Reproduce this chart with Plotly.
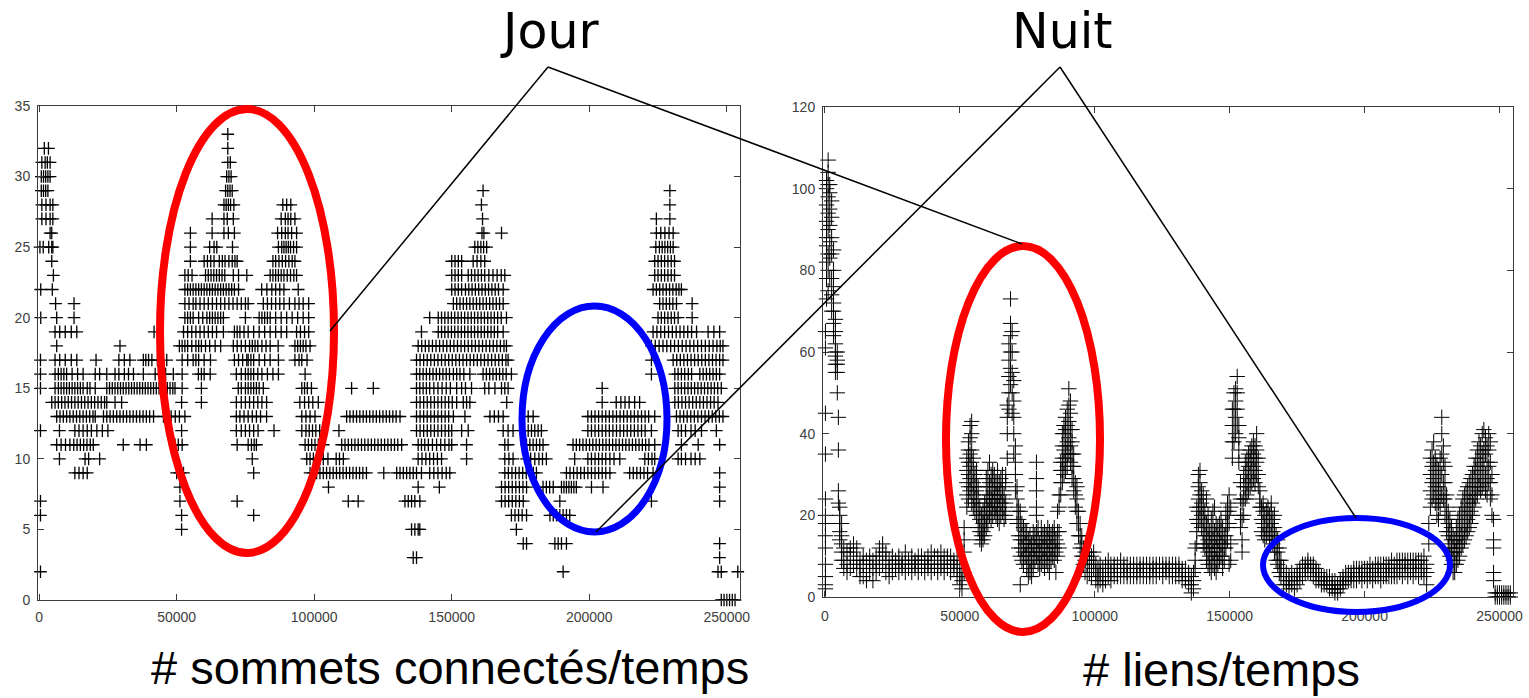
import plotly.graph_objects as go

W, H = 1529, 698

# ---------------- Left panel: "# sommets connectés/temps" ----------------
# y level (number of connected nodes) and, for each level, the times (in thousands) where it occurs
left_levels = [33, 32, 31, 30, 29, 28, 27, 26, 25, 24, 23, 22, 21, 20, 19, 18, 17, 16,
               15, 14, 13, 12, 11, 10, 9, 8, 7, 6, 5, 4, 3, 2, 0]
left_times_k = [
    [68.6],
    [1.9, 3.4, 68.6],
    [1.0, 2.2, 3.0, 4.0, 68.6, 69.5],
    [0.8, 1.6, 2.4, 3.2, 4.0, 68.2, 69.0, 69.8],
    [0.8, 1.6, 2.4, 3.2, 67.8, 68.6, 69.4, 70.2, 161.4, 229.3],
    [1.0, 2.5, 4.0, 5.0, 67.2, 68.0, 68.8, 69.6, 70.8, 88.6, 90.0, 91.5, 160.8, 229.3],
    [1.0, 2.5, 4.0, 5.0, 62.9, 67.2, 68.4, 70.6, 88.0, 89.5, 90.5, 91.5, 93.0, 161.2, 224.4, 229.3],
    [4.0, 4.6, 55.0, 62.9, 67.2, 68.8, 71.0, 86.7, 88.2, 89.5, 90.5, 91.8, 93.6, 161.0, 161.7,
     168.1, 224.4, 226.0, 227.5, 229.0, 230.5],
    [0.3, 1.5, 3.5, 4.6, 5.0, 55.0, 62.0, 63.6, 64.6, 70.3, 87.0, 88.2, 89.0, 89.8, 90.6, 91.4,
     92.5, 93.6, 158.4, 159.5, 160.6, 161.6, 162.7, 224.2, 225.5, 226.5, 227.5, 228.5, 229.5, 230.5],
    [4.6, 55.0, 60.0, 61.2, 62.4, 63.6, 65.5, 66.6, 67.6, 69.0, 70.2, 71.2, 72.0, 85.0, 86.0, 87.2,
     88.4, 89.6, 90.8, 92.0, 93.0, 150.0, 151.2, 152.4, 153.6, 157.8, 159.2, 160.6, 162.0, 223.8,
     225.0, 226.2, 227.4, 228.6, 229.8, 231.0],
    [5.2, 53.0, 54.2, 55.6, 60.5, 61.5, 62.5, 63.5, 64.5, 65.5, 66.5, 67.5, 70.6, 72.5, 75.5, 84.0,
     85.0, 86.0, 87.0, 88.0, 89.0, 90.2, 91.4, 92.6, 93.6, 150.0, 151.2, 152.4, 153.6, 156.0, 157.2,
     158.4, 159.6, 160.8, 162.0, 163.5, 165.0, 166.5, 168.0, 169.3, 223.8, 225.0, 226.2, 227.4,
     228.6, 229.8, 231.0],
    [0.6, 4.8, 53.0, 54.0, 55.0, 56.0, 57.0, 58.0, 59.0, 60.0, 61.0, 62.0, 63.0, 64.0, 65.0, 66.0,
     67.0, 68.0, 69.0, 70.0, 71.0, 72.5, 80.9, 82.8, 84.6, 86.0, 87.5, 89.0, 94.2, 150.0, 151.2,
     152.4, 153.6, 155.0, 156.2, 157.4, 158.6, 159.8, 161.0, 162.2, 163.4, 164.6, 165.8, 167.0,
     168.7, 223.2, 224.4, 225.6, 226.8, 228.0, 229.2, 230.4, 231.6, 232.6, 233.5],
    [6.0, 12.7, 53.0, 54.5, 56.0, 57.0, 58.5, 60.0, 61.5, 63.0, 64.5, 66.0, 67.5, 69.0, 70.5, 72.0,
     73.5, 75.0, 76.0, 81.5, 83.0, 84.5, 86.0, 87.5, 89.0, 91.0, 93.0, 94.5, 96.0, 98.0, 150.6,
     151.8, 153.0, 154.2, 155.4, 156.6, 157.8, 159.0, 160.2, 161.4, 162.6, 163.8, 165.0, 166.2,
     167.4, 168.7, 225.6, 226.8, 228.0, 229.2, 230.4, 231.7, 237.4],
    [0.6, 6.4, 12.7, 53.0, 54.0, 55.0, 56.0, 58.0, 59.5, 61.0, 62.0, 63.0, 64.0, 65.0, 66.0, 67.0,
     75.0, 80.0, 81.0, 82.0, 83.0, 84.0, 86.0, 88.0, 90.0, 92.0, 94.0, 96.0, 98.0, 142.0, 145.1,
     146.3, 147.5, 148.7, 149.9, 151.1, 152.3, 153.5, 154.7, 155.9, 157.1, 158.3, 159.5, 160.7,
     161.9, 163.1, 164.3, 165.5, 166.7, 168.0, 169.9, 225.0, 226.2, 227.4, 228.6, 229.8, 231.0,
     232.3, 237.4],
    [5.8, 7.5, 9.5, 11.7, 13.7, 41.8, 52.5, 54.0, 55.5, 57.0, 58.5, 60.0, 61.5, 63.0, 64.5, 67.0,
     71.0, 72.0, 73.0, 74.5, 76.0, 78.0, 80.0, 82.0, 84.0, 86.0, 88.0, 90.0, 93.6, 95.0, 96.5, 98.0,
     139.0, 145.1, 146.3, 147.5, 148.7, 149.9, 151.1, 152.3, 153.5, 154.7, 155.9, 157.1, 158.3,
     159.5, 160.7, 161.9, 163.1, 164.3, 165.5, 166.7, 168.7, 223.2, 224.6, 226.0, 227.4, 228.8,
     230.2, 231.6, 233.0, 234.4, 235.8, 237.2, 239.0, 243.2, 245.3, 247.4],
    [6.4, 29.4, 51.0, 52.0, 53.0, 54.0, 55.5, 57.0, 58.0, 59.0, 60.5, 62.0, 64.0, 66.0, 70.6, 72.0,
     73.5, 75.0, 76.5, 77.5, 78.5, 79.5, 81.0, 82.5, 84.0, 86.9, 93.0, 94.0, 95.0, 96.0, 97.0, 98.5,
     137.8, 139.1, 140.4, 141.7, 143.0, 144.3, 145.6, 146.9, 148.2, 149.5, 150.8, 152.1, 153.4,
     154.7, 156.0, 157.3, 158.6, 159.9, 161.2, 162.5, 163.8, 165.1, 166.4, 167.7, 169.0, 169.9,
     222.6, 224.0, 225.4, 226.8, 228.2, 229.6, 231.0, 232.4, 233.8, 235.2, 236.6, 238.0, 239.4,
     240.8, 242.2, 243.6, 245.0, 246.4, 247.6, 248.6],
    [0.5, 5.8, 7.5, 9.5, 11.7, 13.7, 20.7, 29.0, 31.0, 33.0, 37.9, 38.8, 39.8, 41.0, 43.0, 46.4,
     52.0, 54.0, 56.0, 57.0, 58.0, 60.0, 62.3, 71.0, 72.5, 74.0, 75.5, 76.0, 77.0, 78.0, 80.0, 82.0,
     84.0, 87.0, 93.0, 94.5, 95.5, 97.4, 137.2, 138.5, 139.8, 141.1, 142.4, 143.7, 145.0, 146.3,
     147.6, 148.9, 150.2, 151.5, 152.8, 154.1, 155.4, 156.7, 158.0, 159.3, 160.6, 161.9, 163.2,
     164.5, 165.8, 167.1, 168.4, 169.7, 170.5, 222.6, 230.5, 231.8, 233.1, 234.4, 235.7, 237.0,
     238.3, 239.6, 240.9, 242.2, 243.5, 244.8, 246.1, 247.4, 248.6],
    [0.5, 5.8, 7.0, 8.0, 9.0, 10.0, 12.0, 14.0, 16.0, 20.4, 22.0, 24.6, 27.6, 29.0, 31.0, 32.5,
     34.3, 37.9, 42.2, 44.0, 46.0, 48.8, 52.0, 57.9, 59.0, 60.0, 62.2, 71.7, 73.5, 75.0, 76.0, 77.0,
     78.0, 79.5, 81.0, 83.0, 85.0, 87.0, 96.7, 137.2, 138.4, 139.6, 140.8, 142.0, 143.2, 144.4,
     145.6, 146.8, 148.0, 149.2, 150.6, 151.8, 153.0, 154.4, 156.6, 161.4, 162.6, 163.8, 165.0,
     166.2, 167.4, 168.6, 169.8, 171.7, 222.6, 231.1, 232.3, 233.5, 234.7, 236.0, 237.2, 240.2,
     241.4, 242.6, 243.8, 245.0, 246.2, 247.4],
    [0.5, 5.8, 7.0, 8.0, 9.0, 10.0, 11.0, 12.0, 13.0, 14.0, 15.0, 16.0, 17.5, 18.5, 20.4, 24.6,
     25.6, 26.6, 27.6, 28.6, 29.6, 30.6, 31.6, 32.6, 33.6, 34.6, 35.6, 36.6, 37.6, 38.6, 39.6, 40.6,
     41.6, 42.6, 43.6, 44.6, 45.6, 46.6, 47.6, 48.6, 49.4, 52.0, 59.0, 72.4, 73.5, 75.0, 76.0, 77.0,
     78.0, 79.0, 80.0, 81.5, 95.5, 96.5, 97.5, 99.0, 113.6, 121.5, 137.2, 138.4, 139.6, 140.8,
     142.0, 143.5, 145.0, 146.5, 148.0, 149.5, 151.8, 153.6, 155.0, 157.2, 162.0, 163.5, 165.7,
     168.1, 169.3, 170.5, 204.7, 231.1, 232.3, 233.5, 234.7, 235.9, 237.1, 238.3, 239.5, 240.7,
     241.9, 243.1, 244.3, 245.5, 246.7, 248.0],
    [4.6, 5.8, 7.0, 8.2, 9.4, 10.6, 11.8, 13.0, 14.2, 15.4, 16.6, 17.8, 19.0, 20.2, 21.4, 22.6,
     23.8, 24.6, 27.6, 30.0, 51.8, 59.0, 71.7, 73.5, 75.0, 76.5, 78.0, 79.5, 81.0, 82.7, 94.8, 96.5,
     98.0, 99.5, 101.5, 137.2, 138.5, 139.8, 141.1, 142.4, 143.7, 145.0, 146.3, 147.6, 148.9,
     150.2, 151.8, 154.2, 155.4, 156.6, 170.0, 204.7, 209.8, 211.5, 213.0, 214.5, 216.5, 218.3,
     231.1, 232.4, 233.7, 235.0, 236.3, 237.6, 238.9, 240.2, 241.5, 242.8, 244.1, 245.4, 246.8],
    [6.4, 7.6, 8.8, 10.0, 11.2, 12.4, 13.6, 14.8, 16.0, 17.2, 18.4, 19.6, 20.4, 23.4, 24.6, 25.8,
     27.0, 28.2, 29.4, 30.6, 31.8, 33.0, 34.2, 35.4, 36.6, 37.8, 39.0, 40.2, 41.6, 45.2, 46.5, 48.0,
     49.5, 51.0, 53.0, 71.7, 73.0, 74.5, 76.0, 77.5, 79.0, 80.5, 82.7, 95.5, 97.0, 98.5, 100.3,
     111.8, 113.0, 114.2, 115.4, 116.6, 117.8, 119.0, 120.2, 121.4, 122.6, 123.8, 125.0, 126.2,
     127.4, 128.6, 129.8, 131.2, 137.2, 138.5, 139.8, 141.1, 142.4, 143.7, 145.0, 146.3, 147.6,
     148.9, 150.6, 154.8, 163.9, 165.5, 167.0, 168.7, 177.8, 179.6, 199.5, 200.8, 202.1, 203.4,
     204.7, 206.0, 207.3, 208.6, 209.9, 211.2, 212.5, 213.8, 215.1, 216.4, 217.7, 219.0, 220.3,
     221.6, 223.8, 231.7, 233.0, 234.3, 235.6, 236.9, 238.2, 239.5, 240.8, 242.1, 243.4, 244.7,
     246.0, 247.3, 248.6],
    [0.5, 7.4, 13.0, 14.5, 16.0, 17.5, 19.0, 21.0, 23.0, 25.0, 51.8, 71.7, 73.5, 75.0, 76.5, 78.0,
     79.6, 85.4, 95.5, 97.0, 98.2, 99.4, 100.6, 102.0, 109.0, 137.2, 138.5, 139.8, 141.1, 142.4,
     143.7, 145.0, 146.3, 147.6, 148.9, 150.0, 153.6, 156.0, 168.7, 170.5, 172.3, 177.8, 179.0,
     180.2, 181.4, 182.6, 199.5, 200.8, 202.1, 203.4, 204.7, 206.0, 207.3, 208.6, 209.9, 211.2,
     212.5, 213.8, 215.1, 216.4, 217.7, 219.0, 220.3, 222.6, 232.3, 233.5, 235.0, 237.0, 238.5,
     240.8, 246.2],
    [6.4, 8.0, 9.6, 11.2, 12.6, 13.8, 15.0, 16.2, 17.4, 18.6, 19.7, 30.6, 36.7, 39.0, 49.4, 50.6,
     52.0, 72.0, 76.0, 77.2, 78.2, 79.0, 96.7, 97.9, 99.1, 100.3, 101.5, 103.3, 110.0, 111.2,
     112.4, 113.6, 114.8, 116.0, 117.2, 118.4, 119.6, 120.8, 122.0, 123.2, 124.4, 125.6, 126.8,
     128.0, 129.2, 130.4, 131.8, 137.8, 139.0, 140.2, 141.5, 143.0, 144.5, 146.0, 147.5, 149.0,
     150.0, 155.4, 169.3, 170.5, 177.2, 178.4, 179.6, 180.8, 182.0, 183.2, 194.1, 195.3, 196.5,
     197.7, 198.9, 200.1, 201.3, 202.5, 203.7, 204.9, 206.1, 207.3, 208.5, 209.7, 210.9, 212.1,
     213.3, 214.5, 215.7, 216.9, 218.1, 219.3, 220.5, 221.7, 223.8, 233.5, 239.6, 247.4],
    [7.4, 16.7, 18.0, 22.0, 77.5, 97.3, 98.5, 99.7, 100.9, 102.1, 103.3, 105.0, 108.0, 109.2,
     110.6, 137.8, 139.2, 140.6, 142.0, 143.4, 144.8, 146.3, 155.4, 169.3, 170.8, 172.3, 177.2,
     178.7, 180.2, 181.7, 183.0, 184.4, 194.7, 199.5, 200.8, 202.1, 203.4, 204.7, 206.0, 207.5,
     209.0, 211.1, 220.2, 221.5, 222.8, 223.8, 232.3, 233.5, 235.0, 237.0, 238.5, 240.2],
    [13.0, 14.5, 16.0, 17.5, 50.0, 51.2, 52.5, 78.0, 98.5, 99.7, 100.9, 102.1, 103.3, 104.5,
     105.7, 106.9, 108.1, 109.3, 110.5, 111.7, 112.9, 114.1, 115.3, 116.5, 117.7, 119.0, 125.3,
     130.0, 131.2, 132.4, 133.6, 134.8, 136.0, 137.2, 139.0, 142.0, 143.5, 145.0, 146.5, 148.0,
     149.3, 169.3, 170.6, 171.9, 173.2, 174.5, 175.8, 177.1, 178.4, 179.7, 180.8, 191.7, 193.0,
     194.3, 195.6, 196.9, 198.2, 199.5, 200.8, 202.1, 203.4, 204.7, 206.0, 207.5, 214.7, 216.0,
     217.3, 218.6, 219.9, 221.2, 223.2, 247.4],
    [51.2, 105.2, 137.8, 145.5, 168.1, 169.4, 170.7, 172.0, 173.3, 174.6, 175.9, 177.2, 183.2,
     184.4, 185.6, 186.9, 189.9, 190.8, 191.7, 192.6, 193.5, 194.4, 195.3, 200.8, 205.0, 247.4],
    [0.5, 51.2, 72.0, 112.4, 116.0, 133.0, 134.2, 135.4, 136.6, 138.4, 168.1, 169.4, 170.7,
     172.0, 173.3, 174.6, 176.0, 189.3, 222.6, 247.4],
    [0.5, 51.8, 78.0, 171.7, 173.0, 174.3, 175.6, 177.2, 185.7, 186.9, 188.1, 189.3, 190.5,
     191.7, 192.9],
    [51.8, 135.4, 136.6, 137.8, 138.4, 173.5],
    [176.0, 177.2, 187.5, 188.7, 189.9, 191.7, 247.4],
    [136.0, 137.2, 247.4],
    [0.5, 190.5, 246.8, 248.0, 254.0],
    [248.0, 249.0, 250.0, 251.0, 252.0, 253.0],
]

# ---------------- Right panel: "# liens/temps" ----------------
# sample times (thousands) and the link counts observed around each time
right_times_k = [
    0.2, 0.6, 1.2, 1.8, 2.5, 3.2, 3.9, 4.6, 5.0, 5.5, 6.2,
    7.0, 8.2, 9.4, 10.6, 11.8, 13.0, 14.2, 15.4, 16.6, 17.8, 19.0, 20.2, 21.4, 22.6, 23.8, 25.0,
    26.2, 27.4, 28.6, 29.8, 31.0, 32.2, 33.4, 34.6, 35.8, 37.0, 38.2, 39.4, 40.6, 41.8, 43.0,
    44.2, 45.4, 46.6, 47.8, 49.0, 50.0, 50.8, 51.6,
    52.6, 53.2, 53.8, 54.4, 55.0, 55.6, 56.2, 56.8, 57.4, 58.0, 58.6, 59.2, 59.8, 60.4, 61.0,
    61.6, 62.2, 62.8, 63.4, 64.0, 64.6, 65.2, 65.8, 66.4, 67.0, 67.6, 68.2, 68.8, 69.4, 70.0,
    70.6, 71.2, 71.8, 72.4, 73.0, 73.6, 74.2, 74.8, 75.4, 76.0, 76.6, 77.2, 77.8, 78.4, 79.0,
    79.6, 80.2, 80.8, 81.4, 82.0, 82.6, 83.2, 83.8, 84.4, 85.0, 85.6, 86.2, 86.8, 87.4, 88.0,
    88.6, 89.2, 89.8, 90.4, 91.0, 91.6, 92.2, 92.8, 93.4, 94.0, 94.6, 95.2, 95.8, 96.4,
    97.2, 98.0, 98.8, 99.6, 100.4, 101.2, 102.0, 103.0, 104.0, 105.0, 106.0, 107.2, 108.4,
    109.6, 110.8, 112.0, 113.2, 114.4, 115.6, 116.8, 118.0, 119.2, 120.4, 121.6, 122.8, 124.0,
    125.2, 126.4, 127.6, 128.8, 130.0, 131.2, 132.4, 133.6, 134.8, 135.8, 136.6,
    137.2, 137.8, 138.4, 139.0, 139.6, 140.2, 140.8, 141.4, 142.0, 142.6, 143.2, 143.8, 144.4,
    145.0, 145.6, 146.2, 146.8, 147.4, 148.0, 148.6, 149.2, 149.8, 150.4, 151.0, 151.6, 152.2,
    152.8, 153.4, 154.0, 154.6, 155.2, 155.8, 156.4, 157.0, 157.6, 158.2, 158.8, 159.4, 160.0,
    160.6, 161.2, 161.8, 162.4, 163.0, 163.6, 164.2, 164.8, 165.4, 166.0, 166.6, 167.2, 167.8,
    168.4, 169.0, 170.0, 171.0, 172.0, 173.0, 174.0, 175.0, 176.0, 177.0, 178.0, 179.0, 180.0,
    181.0, 182.0, 183.0, 184.0, 185.0, 186.0, 187.0, 188.0, 189.0, 190.0, 191.0, 192.0, 193.0,
    194.0, 195.0, 196.0, 197.0, 198.0, 199.0, 200.0, 201.0, 202.0, 203.0, 204.0, 205.0, 206.0,
    207.0, 208.0, 209.0, 210.0, 211.0, 212.0, 213.0, 214.0, 215.0, 216.0, 217.0, 218.0, 219.0,
    220.0, 221.0, 222.0, 223.0, 223.8, 224.4, 225.0, 225.6, 226.2, 226.8, 227.4, 228.0, 228.6,
    229.2, 229.8, 230.4, 231.0, 231.6, 232.2, 232.8, 233.4, 234.0, 234.6, 235.2, 235.8, 236.4,
    237.0, 237.6, 238.2, 238.8, 239.4, 240.0, 240.6, 241.2, 241.8, 242.4, 243.0, 243.6, 244.2,
    244.8, 245.4, 246.0, 246.6, 247.2, 247.8, 248.4, 249.2, 250.0, 250.8, 251.6, 252.4, 253.2,
    254.0,
]
right_values = [
    [2, 3, 5, 8, 12, 15, 18, 20, 24, 35, 45, 61, 65], [73, 78, 82, 86, 88, 92, 96, 100, 102],
    [75, 80, 84, 90, 94, 98, 101, 104, 107], [78, 83, 87, 91, 95, 99, 101],
    [70, 74, 78, 84, 88, 93, 97], [64, 67, 70, 72, 76, 80, 85], [55, 57, 59, 60, 62, 65, 68],
    [50, 55, 57, 58, 60], [23, 26, 36, 44], [14, 16, 18, 20, 22], [9, 11, 13, 15, 18],
    [7, 9, 12], [6, 8, 11], [7, 10, 12], [8, 11, 13], [7, 9, 12], [5, 7, 9], [5, 8, 10],
    [4, 6, 9], [6, 8, 10], [4, 7, 9], [6, 8, 10], [7, 10, 12], [8, 11, 13], [6, 9, 11],
    [5, 7, 9], [6, 8, 10], [7, 8, 9], [6, 8, 10], [7, 8, 9], [6, 8, 11], [7, 8, 9], [6, 8, 10],
    [7, 8, 9], [6, 8, 10], [7, 9, 10], [6, 8, 9], [7, 8, 10], [6, 8, 11], [7, 9, 10],
    [6, 8, 10], [7, 8, 11], [6, 8, 10], [7, 9, 10], [6, 8, 10], [7, 8, 9], [5, 7, 9], [3, 5, 7],
    [2, 4, 6], [6, 11, 14, 17],
    [22, 25, 28, 31, 34], [24, 27, 30, 33, 36, 38], [26, 29, 32, 35, 39, 42],
    [23, 27, 30, 33, 36, 40, 43], [22, 25, 28, 31, 34], [21, 24, 27, 30], [20, 23, 26, 29, 31],
    [17, 20, 24, 27], [14, 16, 19, 22], [13, 15, 17, 20], [14, 16, 18, 21], [15, 18, 20, 23],
    [17, 19, 22, 25, 29], [18, 21, 24, 27, 31], [20, 22, 25, 28, 33], [19, 22, 24, 27, 30],
    [20, 23, 26, 29, 31], [21, 24, 27, 30], [20, 22, 25, 28], [19, 21, 24, 27, 31],
    [18, 22, 25, 28], [20, 23, 26, 29], [21, 24, 27, 30], [19, 22, 25], [20, 23, 28, 30],
    [34, 40, 44, 47], [46, 50, 54, 58, 62], [52, 56, 60, 64, 67, 73], [45, 50, 55, 60, 65],
    [35, 40, 44, 48, 53], [26, 30, 33, 37], [18, 21, 24, 27], [12, 15, 19, 22],
    [3, 10, 14, 18, 21], [9, 12, 15, 18], [8, 11, 14, 17], [10, 13, 16], [7, 10, 13, 16],
    [5, 8, 11, 14], [6, 9, 12, 15], [5, 8, 11, 13], [7, 10, 13, 16], [9, 12, 15],
    [10, 13, 16, 20, 22, 26, 29, 33], [8, 11, 14, 17], [7, 10, 13], [8, 11, 14, 17],
    [9, 12, 15], [7, 10, 13, 16], [9, 12, 15], [8, 11, 14, 17], [6, 10, 13, 16], [9, 12, 15],
    [10, 13, 16], [9, 12, 15, 17], [6, 11, 14], [10, 13, 16, 21], [12, 16, 22, 25],
    [25, 28, 31, 33], [28, 31, 34, 37, 40], [30, 33, 36, 40, 42], [31, 34, 37, 41, 44],
    [32, 35, 38, 42, 46], [35, 39, 43, 47, 51], [33, 37, 41, 45, 48], [29, 32, 35, 38, 41],
    [26, 29, 32, 35], [22, 25, 28], [18, 21, 24, 27], [15, 18, 21], [12, 15, 18], [10, 13, 15],
    [8, 10, 12], [6, 9, 11],
    [5, 8, 10], [6, 9, 11], [5, 8, 10], [7, 9, 11], [4, 6, 8], [3, 5, 7], [4, 6, 8], [3, 5, 7],
    [4, 6, 8], [5, 7, 9], [4, 6, 8], [5, 7, 8], [5, 6, 8], [5, 7, 9], [5, 7, 8], [5, 6, 8],
    [5, 7, 8], [5, 7, 8], [5, 6, 8], [5, 7, 8], [5, 7, 8], [5, 7, 8], [5, 6, 8], [5, 7, 8],
    [5, 7, 8], [6, 7, 8], [5, 7, 8], [6, 7, 8], [5, 7, 8], [5, 6, 8], [5, 7, 8], [5, 7, 8],
    [4, 6, 7], [4, 5, 7], [3, 5, 6], [1, 3, 5], [2, 4, 6],
    [7, 9, 12], [13, 16, 19, 22], [18, 21, 24, 27, 30], [19, 22, 25, 28, 31], [17, 20, 23, 26],
    [13, 16, 19, 22, 25], [12, 15, 18, 21], [9, 12, 15, 18, 24], [8, 11, 14, 17, 20],
    [7, 10, 13, 16], [6, 9, 12, 15, 19], [8, 11, 14, 17, 21], [7, 10, 13, 16, 22],
    [6, 9, 12, 15, 18], [8, 11, 14, 17], [9, 12, 15, 18], [10, 13, 16, 19], [7, 10, 13, 17],
    [9, 12, 15], [12, 15, 18, 21], [14, 17, 20, 23], [8, 18, 21, 25], [9, 13, 22],
    [34, 38, 42, 46], [38, 42, 46, 50], [40, 44, 48, 51], [42, 46, 50, 54], [33, 36, 39, 42],
    [17, 20, 24, 28], [11, 14, 19, 23], [20, 24, 27, 30], [24, 27, 30, 33], [25, 28, 31, 34],
    [26, 29, 32, 35], [27, 30, 33, 36], [28, 31, 34, 37], [29, 32, 35, 38], [28, 31, 34, 37],
    [30, 33, 36, 40], [27, 30, 34], [22, 24, 26], [16, 19, 22], [15, 18, 21, 23], [14, 17, 20],
    [15, 18, 21], [16, 19, 22], [14, 17, 20], [15, 18, 21, 23], [13, 16, 19], [11, 14, 17, 20],
    [9, 12, 15], [8, 11, 14], [6, 9, 12], [5, 7, 9], [3, 5, 7], [3, 4, 6], [2, 4, 5], [3, 4, 6],
    [2, 4, 5], [3, 5, 6], [4, 6, 7], [5, 7, 8], [6, 7, 8], [6, 8, 9], [6, 7, 8], [5, 7, 8],
    [4, 6, 7], [4, 5, 6], [3, 4, 5], [3, 4, 5], [3, 4, 5], [2, 3, 5], [2, 3, 4], [1, 2, 4],
    [1, 2, 3], [2, 3, 4], [3, 4, 5], [4, 5, 6], [4, 5, 6], [4, 5, 6], [4, 6, 7], [4, 5, 7],
    [5, 6, 7], [4, 6, 7], [5, 6, 7], [4, 6, 7], [5, 6, 8], [4, 6, 7], [5, 6, 8], [5, 7, 8],
    [4, 6, 8], [5, 7, 8], [5, 6, 8], [5, 7, 8], [5, 7, 9], [5, 6, 8], [5, 7, 9], [6, 7, 9],
    [5, 7, 9], [6, 8, 9], [5, 7, 9], [6, 7, 9], [5, 7, 9], [6, 8, 9], [5, 7, 9], [6, 7, 9],
    [5, 7, 10], [3, 6, 8], [13, 18],
    [22, 26, 30, 34], [24, 28, 32, 36], [25, 29, 33, 38], [23, 27, 31, 34], [20, 24, 28, 32],
    [19, 23, 27, 31], [22, 26, 30, 34], [25, 30, 35, 40, 44], [24, 28, 33, 37],
    [20, 24, 28, 32], [16, 19, 22, 25], [12, 15, 18, 21], [10, 13, 16, 19], [8, 11, 14, 17],
    [6, 9, 12, 15], [6, 8, 11, 14], [8, 11, 14, 17], [9, 12, 15, 19], [10, 13, 16, 20],
    [12, 15, 18, 22], [13, 16, 20, 24], [14, 17, 21, 25], [15, 18, 22, 26], [16, 19, 23, 27],
    [17, 20, 24, 28], [18, 21, 25, 29], [20, 23, 27, 30], [22, 25, 29, 32], [24, 27, 31, 34],
    [25, 28, 32, 36], [27, 30, 34, 38], [26, 29, 33, 37], [27, 31, 35, 40], [28, 32, 36, 41],
    [26, 30, 35, 39], [25, 29, 33, 37], [28, 32, 36, 40], [24, 28, 33, 38], [20, 25, 30],
    [4, 6, 12, 14, 19], [0, 1], [0, 1], [0, 1], [0, 1], [0, 1], [0, 1], [0, 1], [0, 1],
]

# annotation texts
title_day = "Jour"
title_night = "Nuit"
caption_left = "# sommets connectés/temps"
caption_right = "# liens/temps"

x_tickvals = [0, 50000, 100000, 150000, 200000, 250000]
left_y_tickvals = [0, 5, 10, 15, 20, 25, 30, 35]
right_y_tickvals = [0, 20, 40, 60, 80, 100, 120]

# ---------------- build point lists ----------------
lx, ly = [], []
for lvl, ts in zip(left_levels, left_times_k):
    for t in ts:
        lx.append(t * 1000)
        ly.append(lvl)

rx, ry = [], []
for t, vals in zip(right_times_k, right_values):
    for v in vals:
        rx.append(t * 1000)
        ry.append(v)

fig = go.Figure()
fig.add_trace(go.Scatter(
    x=lx, y=ly, mode="markers", xaxis="x", yaxis="y", cliponaxis=False,
    marker=dict(symbol="cross-thin", size=9, line=dict(width=1.3, color="black"), color="black"),
    showlegend=False, hoverinfo="skip"))
fig.add_trace(go.Scatter(
    x=rx, y=ry, mode="markers", xaxis="x2", yaxis="y2", cliponaxis=False,
    marker=dict(symbol="cross-thin", size=11, line=dict(width=1.0, color="black"), color="black"),
    showlegend=False, hoverinfo="skip"))


def px(xp):
    return xp / W


def py(yp):
    return 1 - yp / H


axis_common = dict(
    showline=True, linecolor="#3a3a3a", linewidth=1, mirror="ticks", ticks="inside",
    ticklen=6, tickcolor="#3a3a3a", tickwidth=1, showgrid=False, zeroline=False,
    automargin=False, tickfont=dict(family="Liberation Sans, Arial", size=14, color="#404040"),
)

fig.update_layout(
    width=W, height=H, margin=dict(l=0, r=0, t=0, b=0),
    paper_bgcolor="white", plot_bgcolor="white", template="none",
    xaxis=dict(domain=[px(38), px(740)], range=[-400, 254800], anchor="y",
               tickvals=x_tickvals, ticktext=[str(v) for v in x_tickvals],
               ticklabelstandoff=4, **axis_common),
    yaxis=dict(domain=[py(600), py(106)], range=[0, 35], anchor="x",
               tickvals=left_y_tickvals, ticklabelstandoff=4, **axis_common),
    xaxis2=dict(domain=[px(823), px(1513)], range=[-700, 255000], anchor="y2",
                tickvals=x_tickvals, ticktext=[str(v) for v in x_tickvals],
                ticklabelstandoff=6, **axis_common),
    yaxis2=dict(domain=[py(597), py(107)], range=[0, 120], anchor="x2",
                tickvals=right_y_tickvals, ticklabelstandoff=4, **axis_common),
)

# ellipses
ellipses = [
    (160, 109, 334, 553, "#ff0000", 8),
    (522, 306, 667, 532, "#0000ff", 7),
    (946, 246, 1100, 632, "#ff0000", 8),
    (1263, 518, 1450, 612, "#0000ff", 6),
]
for x0, y0, x1, y1, col, w in ellipses:
    fig.add_shape(type="circle", xref="paper", yref="paper",
                  x0=px(x0), x1=px(x1), y0=py(y1), y1=py(y0),
                  line=dict(color=col, width=w), layer="above")

# connector lines from labels
lines = [
    (548, 67, 330, 331),
    (548, 67, 1022, 244),
    (1060, 67, 596, 532),
    (1060, 67, 1356, 518),
]
for x0, y0, x1, y1 in lines:
    fig.add_shape(type="line", xref="paper", yref="paper",
                  x0=px(x0), y0=py(y0), x1=px(x1), y1=py(y1),
                  line=dict(color="black", width=1.5), layer="above")

big_font = dict(family="DejaVu Sans", size=49, color="black")
cap_font = dict(family="Liberation Sans, Arial", size=47, color="black")
fig.add_annotation(text=title_day, x=px(549), y=py(31), xref="paper", yref="paper",
                   showarrow=False, xanchor="center", yanchor="middle", font=big_font)
fig.add_annotation(text=title_night, x=px(1062), y=py(31), xref="paper", yref="paper",
                   showarrow=False, xanchor="center", yanchor="middle", font=big_font)
fig.add_annotation(text=caption_left, x=px(450), y=py(667), xref="paper", yref="paper",
                   showarrow=False, xanchor="center", yanchor="middle", font=cap_font)
fig.add_annotation(text=caption_right, x=px(1221), y=0, xref="paper", yref="paper",
                   showarrow=False, xanchor="center", yanchor="bottom", font=cap_font)

fig.write_html("out.html")
